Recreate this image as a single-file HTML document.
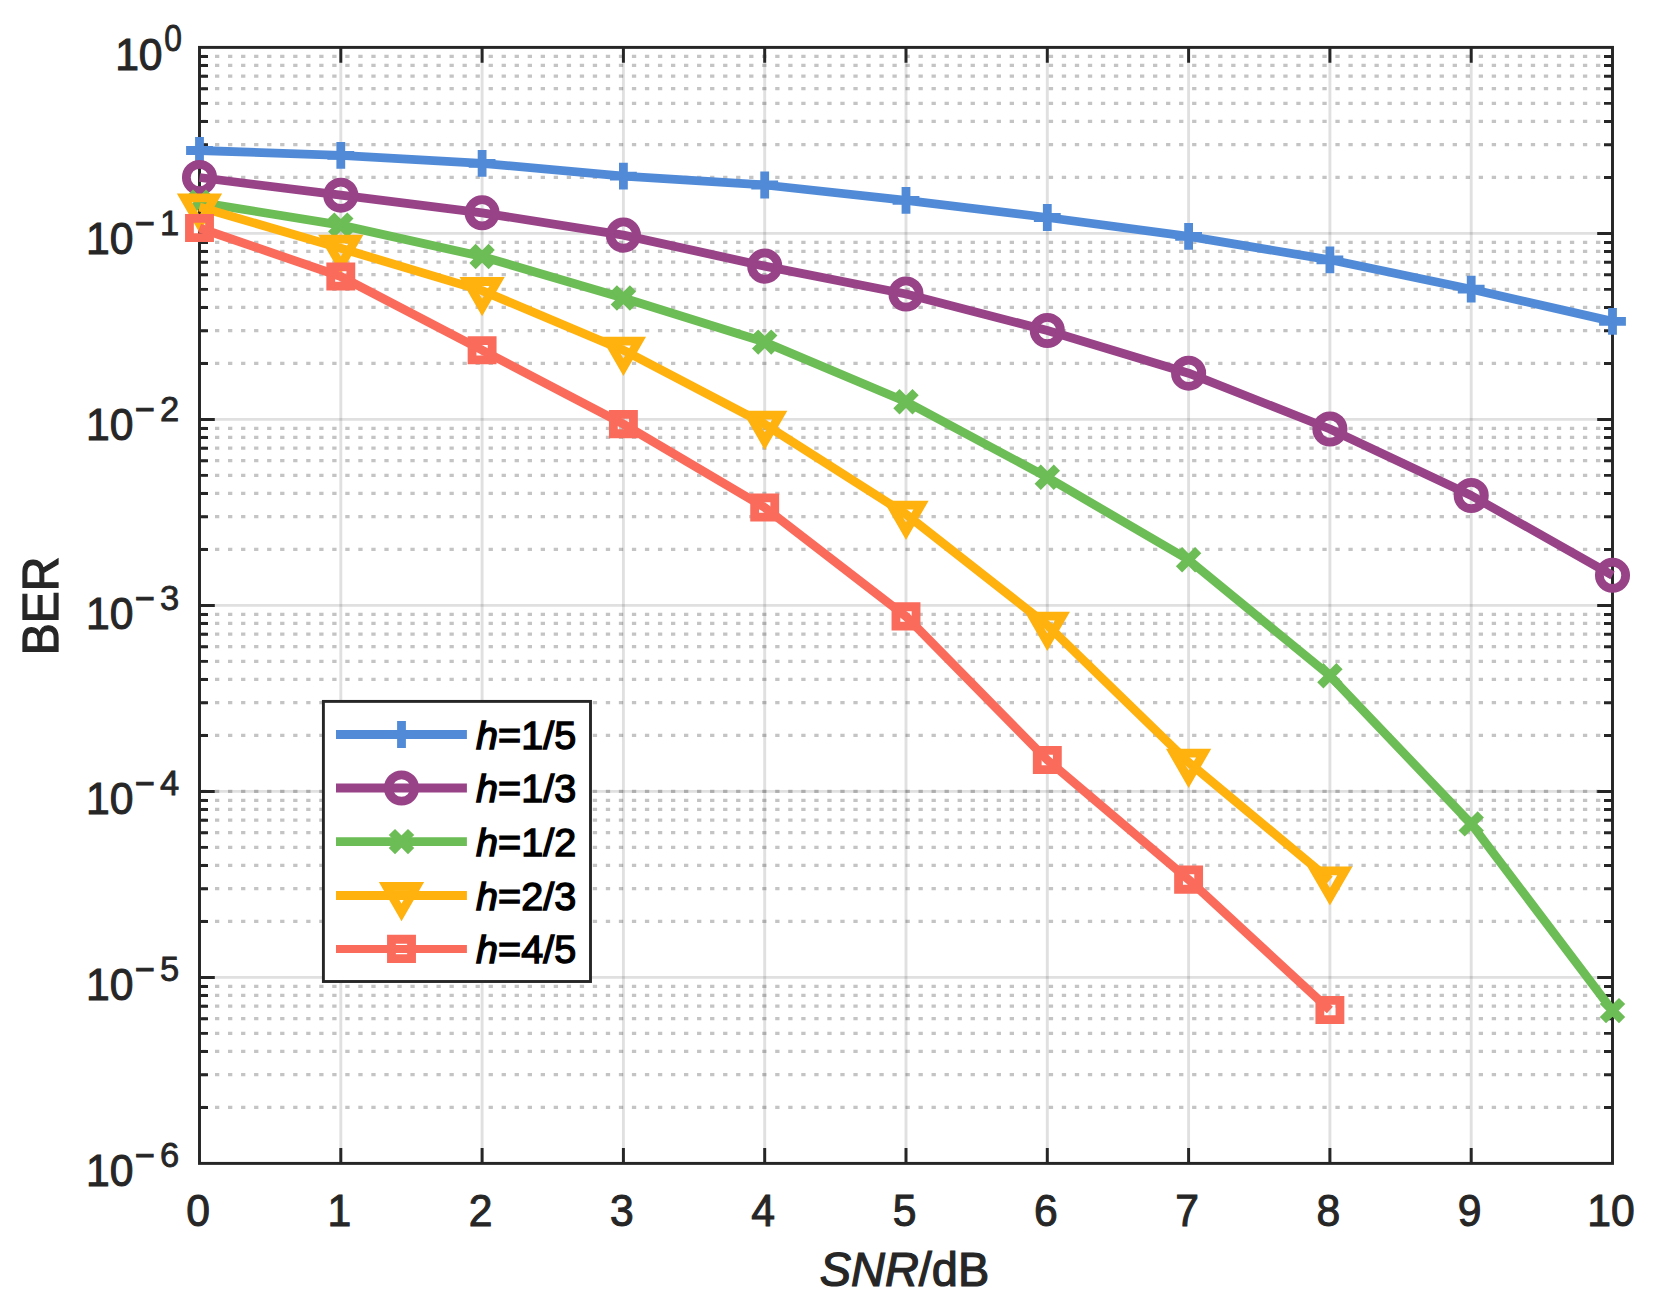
<!DOCTYPE html>
<html lang="en"><head><meta charset="utf-8"><title>BER vs SNR</title>
<style>html,body{margin:0;padding:0;background:#fff}body{width:1661px;height:1316px;overflow:hidden}svg{display:block}text{font-family:"Liberation Sans",sans-serif;fill:#262626}.tk{font-size:42.67px;stroke:#262626;stroke-width:1px}.sup{font-size:34.5px;stroke:#262626;stroke-width:.8px}.lab{font-size:46.93px;stroke:#262626;stroke-width:1.2px}.lab2{font-size:48px;stroke:#262626;stroke-width:1.2px}.lg{font-size:39.6px;fill:#000;stroke:#000;stroke-width:1.4px}.i{font-style:italic}</style></head><body>
<svg width="1661" height="1316" viewBox="0 0 1661 1316">
<rect width="1661" height="1316" fill="#fff"/>
<g stroke="#262626" stroke-opacity=".27" stroke-width="3.2" stroke-dasharray="4.3 8.728" stroke-dashoffset="-15.5" fill="none">
<path d="M199.5 791.40H1602.5"/>
<path d="M199.5 177.41H1602.5"/>
<path d="M199.5 144.66H1602.5"/>
<path d="M199.5 121.42H1602.5"/>
<path d="M199.5 103.39H1602.5"/>
<path d="M199.5 88.66H1602.5"/>
<path d="M199.5 76.21H1602.5"/>
<path d="M199.5 65.43H1602.5"/>
<path d="M199.5 56.41H1602.5"/>
<path d="M199.5 363.41H1602.5"/>
<path d="M199.5 330.66H1602.5"/>
<path d="M199.5 307.42H1602.5"/>
<path d="M199.5 289.39H1602.5"/>
<path d="M199.5 274.66H1602.5"/>
<path d="M199.5 262.21H1602.5"/>
<path d="M199.5 251.43H1602.5"/>
<path d="M199.5 242.41H1602.5"/>
<path d="M199.5 549.41H1602.5"/>
<path d="M199.5 516.66H1602.5"/>
<path d="M199.5 493.42H1602.5"/>
<path d="M199.5 475.39H1602.5"/>
<path d="M199.5 460.66H1602.5"/>
<path d="M199.5 448.21H1602.5"/>
<path d="M199.5 437.43H1602.5"/>
<path d="M199.5 428.41H1602.5"/>
<path d="M199.5 735.41H1602.5"/>
<path d="M199.5 702.66H1602.5"/>
<path d="M199.5 679.42H1602.5"/>
<path d="M199.5 661.39H1602.5"/>
<path d="M199.5 646.66H1602.5"/>
<path d="M199.5 634.21H1602.5"/>
<path d="M199.5 623.43H1602.5"/>
<path d="M199.5 614.41H1602.5"/>
<path d="M199.5 921.41H1602.5"/>
<path d="M199.5 888.66H1602.5"/>
<path d="M199.5 865.42H1602.5"/>
<path d="M199.5 847.39H1602.5"/>
<path d="M199.5 832.66H1602.5"/>
<path d="M199.5 820.21H1602.5"/>
<path d="M199.5 809.43H1602.5"/>
<path d="M199.5 800.41H1602.5"/>
<path d="M199.5 1107.41H1602.5"/>
<path d="M199.5 1074.66H1602.5"/>
<path d="M199.5 1051.42H1602.5"/>
<path d="M199.5 1033.39H1602.5"/>
<path d="M199.5 1018.66H1602.5"/>
<path d="M199.5 1006.21H1602.5"/>
<path d="M199.5 995.43H1602.5"/>
<path d="M199.5 986.41H1602.5"/>
</g>
<g stroke="#262626" stroke-opacity=".14" stroke-width="2.9" fill="none">
<path d="M340.80 47.4V1163.4"/>
<path d="M482.10 47.4V1163.4"/>
<path d="M623.40 47.4V1163.4"/>
<path d="M764.70 47.4V1163.4"/>
<path d="M906.00 47.4V1163.4"/>
<path d="M1047.30 47.4V1163.4"/>
<path d="M1188.60 47.4V1163.4"/>
<path d="M1329.90 47.4V1163.4"/>
<path d="M1471.20 47.4V1163.4"/>
<path d="M199.5 233.40H1612.5"/>
<path d="M199.5 419.40H1612.5"/>
<path d="M199.5 605.40H1612.5"/>
<path d="M199.5 791.40H1612.5"/>
<path d="M199.5 977.40H1612.5"/>
</g>
<g stroke="#262626" stroke-width="2.95" fill="none">
<rect x="199.5" y="47.4" width="1413.0" height="1116.0"/>
<path d="M340.80 47.4v15.3M340.80 1163.4v-15.3"/>
<path d="M482.10 47.4v15.3M482.10 1163.4v-15.3"/>
<path d="M623.40 47.4v15.3M623.40 1163.4v-15.3"/>
<path d="M764.70 47.4v15.3M764.70 1163.4v-15.3"/>
<path d="M906.00 47.4v15.3M906.00 1163.4v-15.3"/>
<path d="M1047.30 47.4v15.3M1047.30 1163.4v-15.3"/>
<path d="M1188.60 47.4v15.3M1188.60 1163.4v-15.3"/>
<path d="M1329.90 47.4v15.3M1329.90 1163.4v-15.3"/>
<path d="M1471.20 47.4v15.3M1471.20 1163.4v-15.3"/>
<path d="M199.5 177.41h8.5M1612.5 177.41h-8.5"/>
<path d="M199.5 144.66h8.5M1612.5 144.66h-8.5"/>
<path d="M199.5 121.42h8.5M1612.5 121.42h-8.5"/>
<path d="M199.5 103.39h8.5M1612.5 103.39h-8.5"/>
<path d="M199.5 88.66h8.5M1612.5 88.66h-8.5"/>
<path d="M199.5 76.21h8.5M1612.5 76.21h-8.5"/>
<path d="M199.5 65.43h8.5M1612.5 65.43h-8.5"/>
<path d="M199.5 56.41h8.5M1612.5 56.41h-8.5"/>
<path d="M199.5 233.40h15.3M1612.5 233.40h-15.3"/>
<path d="M199.5 363.41h8.5M1612.5 363.41h-8.5"/>
<path d="M199.5 330.66h8.5M1612.5 330.66h-8.5"/>
<path d="M199.5 307.42h8.5M1612.5 307.42h-8.5"/>
<path d="M199.5 289.39h8.5M1612.5 289.39h-8.5"/>
<path d="M199.5 274.66h8.5M1612.5 274.66h-8.5"/>
<path d="M199.5 262.21h8.5M1612.5 262.21h-8.5"/>
<path d="M199.5 251.43h8.5M1612.5 251.43h-8.5"/>
<path d="M199.5 242.41h8.5M1612.5 242.41h-8.5"/>
<path d="M199.5 419.40h15.3M1612.5 419.40h-15.3"/>
<path d="M199.5 549.41h8.5M1612.5 549.41h-8.5"/>
<path d="M199.5 516.66h8.5M1612.5 516.66h-8.5"/>
<path d="M199.5 493.42h8.5M1612.5 493.42h-8.5"/>
<path d="M199.5 475.39h8.5M1612.5 475.39h-8.5"/>
<path d="M199.5 460.66h8.5M1612.5 460.66h-8.5"/>
<path d="M199.5 448.21h8.5M1612.5 448.21h-8.5"/>
<path d="M199.5 437.43h8.5M1612.5 437.43h-8.5"/>
<path d="M199.5 428.41h8.5M1612.5 428.41h-8.5"/>
<path d="M199.5 605.40h15.3M1612.5 605.40h-15.3"/>
<path d="M199.5 735.41h8.5M1612.5 735.41h-8.5"/>
<path d="M199.5 702.66h8.5M1612.5 702.66h-8.5"/>
<path d="M199.5 679.42h8.5M1612.5 679.42h-8.5"/>
<path d="M199.5 661.39h8.5M1612.5 661.39h-8.5"/>
<path d="M199.5 646.66h8.5M1612.5 646.66h-8.5"/>
<path d="M199.5 634.21h8.5M1612.5 634.21h-8.5"/>
<path d="M199.5 623.43h8.5M1612.5 623.43h-8.5"/>
<path d="M199.5 614.41h8.5M1612.5 614.41h-8.5"/>
<path d="M199.5 791.40h15.3M1612.5 791.40h-15.3"/>
<path d="M199.5 921.41h8.5M1612.5 921.41h-8.5"/>
<path d="M199.5 888.66h8.5M1612.5 888.66h-8.5"/>
<path d="M199.5 865.42h8.5M1612.5 865.42h-8.5"/>
<path d="M199.5 847.39h8.5M1612.5 847.39h-8.5"/>
<path d="M199.5 832.66h8.5M1612.5 832.66h-8.5"/>
<path d="M199.5 820.21h8.5M1612.5 820.21h-8.5"/>
<path d="M199.5 809.43h8.5M1612.5 809.43h-8.5"/>
<path d="M199.5 800.41h8.5M1612.5 800.41h-8.5"/>
<path d="M199.5 977.40h15.3M1612.5 977.40h-15.3"/>
<path d="M199.5 1107.41h8.5M1612.5 1107.41h-8.5"/>
<path d="M199.5 1074.66h8.5M1612.5 1074.66h-8.5"/>
<path d="M199.5 1051.42h8.5M1612.5 1051.42h-8.5"/>
<path d="M199.5 1033.39h8.5M1612.5 1033.39h-8.5"/>
<path d="M199.5 1018.66h8.5M1612.5 1018.66h-8.5"/>
<path d="M199.5 1006.21h8.5M1612.5 1006.21h-8.5"/>
<path d="M199.5 995.43h8.5M1612.5 995.43h-8.5"/>
<path d="M199.5 986.41h8.5M1612.5 986.41h-8.5"/>
</g>
<g stroke="#518bd8" stroke-width="8.8" fill="none" stroke-linejoin="miter" stroke-miterlimit="10"><path d="M199.5 150.5L340.8 155.3L482.1 163.3L623.4 176.1L764.7 185.0L906.0 200.3L1047.3 217.5L1188.6 236.3L1329.9 259.8L1471.2 289.2L1612.5 321.4" stroke-linejoin="round"/><path d="M186.1 150.5h26.8M199.5 137.1v26.8M327.4 155.3h26.8M340.8 141.9v26.8M468.7 163.3h26.8M482.1 149.9v26.8M610.0 176.1h26.8M623.4 162.7v26.8M751.3 185.0h26.8M764.7 171.6v26.8M892.6 200.3h26.8M906.0 186.9v26.8M1033.9 217.5h26.8M1047.3 204.1v26.8M1175.2 236.3h26.8M1188.6 222.9v26.8M1316.5 259.8h26.8M1329.9 246.4v26.8M1457.8 289.2h26.8M1471.2 275.8v26.8M1599.1 321.4h26.8M1612.5 308.0v26.8"/></g>
<g stroke="#984387" stroke-width="8.8" fill="none" stroke-linejoin="miter" stroke-miterlimit="10"><path d="M199.5 177.5L340.8 195.2L482.1 212.8L623.4 235.1L764.7 266.1L906.0 294.0L1047.3 330.5L1188.6 373.2L1329.9 429.0L1471.2 495.5L1612.5 575.3" stroke-linejoin="round"/><circle cx="199.5" cy="177.5" r="13.15"/><circle cx="340.8" cy="195.2" r="13.15"/><circle cx="482.1" cy="212.8" r="13.15"/><circle cx="623.4" cy="235.1" r="13.15"/><circle cx="764.7" cy="266.1" r="13.15"/><circle cx="906.0" cy="294.0" r="13.15"/><circle cx="1047.3" cy="330.5" r="13.15"/><circle cx="1188.6" cy="373.2" r="13.15"/><circle cx="1329.9" cy="429.0" r="13.15"/><circle cx="1471.2" cy="495.5" r="13.15"/><circle cx="1612.5" cy="575.3" r="13.15"/></g>
<g stroke="#6cbd55" stroke-width="8.8" fill="none" stroke-linejoin="miter" stroke-miterlimit="10"><path d="M199.5 202.3L340.8 225.1L482.1 256.5L623.4 298.0L764.7 342.1L906.0 401.7L1047.3 477.3L1188.6 559.8L1329.9 675.7L1471.2 823.9L1612.5 1010.6" stroke-linejoin="round"/><path d="M189.9 192.7l19.2 19.2M189.9 211.9l19.2 -19.2M331.2 215.5l19.2 19.2M331.2 234.7l19.2 -19.2M472.5 246.9l19.2 19.2M472.5 266.1l19.2 -19.2M613.8 288.4l19.2 19.2M613.8 307.6l19.2 -19.2M755.1 332.5l19.2 19.2M755.1 351.7l19.2 -19.2M896.4 392.1l19.2 19.2M896.4 411.3l19.2 -19.2M1037.7 467.7l19.2 19.2M1037.7 486.9l19.2 -19.2M1179.0 550.2l19.2 19.2M1179.0 569.4l19.2 -19.2M1320.3 666.1l19.2 19.2M1320.3 685.3l19.2 -19.2M1461.6 814.3l19.2 19.2M1461.6 833.5l19.2 -19.2M1602.9 1001.0l19.2 19.2M1602.9 1020.2l19.2 -19.2"/></g>
<g stroke="#ffb10d" stroke-width="8.8" fill="none" stroke-linejoin="miter" stroke-miterlimit="10"><path d="M199.5 207.0L340.8 248.3L482.1 290.6L623.4 350.2L764.7 424.2L906.0 514.2L1047.3 625.2L1188.6 762.3L1329.9 879.9" stroke-linejoin="round"/><path d="M184.50 197.90h30l-15 25.98zM325.80 239.20h30l-15 25.98zM467.10 281.50h30l-15 25.98zM608.40 341.10h30l-15 25.98zM749.70 415.10h30l-15 25.98zM891.00 505.10h30l-15 25.98zM1032.30 616.10h30l-15 25.98zM1173.60 753.20h30l-15 25.98zM1314.90 870.80h30l-15 25.98z"/></g>
<g stroke="#fb6b5b" stroke-width="8.8" fill="none" stroke-linejoin="miter" stroke-miterlimit="10"><path d="M199.5 228.0L340.8 276.5L482.1 350.2L623.4 424.1L764.7 507.5L906.0 616.4L1047.3 760.0L1188.6 879.6L1329.9 1010.0" stroke-linejoin="round"/><path d="M189.45 218.35h20.1v19.3h-20.1zM330.75 266.85h20.1v19.3h-20.1zM472.05 340.55h20.1v19.3h-20.1zM613.35 414.45h20.1v19.3h-20.1zM754.65 497.85h20.1v19.3h-20.1zM895.95 606.75h20.1v19.3h-20.1zM1037.25 750.35h20.1v19.3h-20.1zM1178.55 869.95h20.1v19.3h-20.1zM1319.85 1000.35h20.1v19.3h-20.1z"/></g>
<rect x="323.4" y="701.4" width="267.1" height="280.1" fill="#fff" stroke="#262626" stroke-width="2.9"/>
<g stroke="#518bd8" stroke-width="8.8" fill="none" stroke-miterlimit="10"><path d="M336 734.5H466.9"/><path d="M388.1 734.5h26.8M401.5 721.1v26.8"/></g>
<text class="lg" transform="translate(476.00 748.90) scale(1 1.000)" text-anchor="start"><tspan class="i">h</tspan>=1/5</text>
<g stroke="#984387" stroke-width="8.8" fill="none" stroke-miterlimit="10"><path d="M336 788.0H466.9"/><circle cx="401.5" cy="788.0" r="13.15"/></g>
<text class="lg" transform="translate(476.00 802.40) scale(1 1.000)" text-anchor="start"><tspan class="i">h</tspan>=1/3</text>
<g stroke="#6cbd55" stroke-width="8.8" fill="none" stroke-miterlimit="10"><path d="M336 841.6H466.9"/><path d="M391.9 832.0l19.2 19.2M391.9 851.2l19.2 -19.2"/></g>
<text class="lg" transform="translate(476.00 856.00) scale(1 1.000)" text-anchor="start"><tspan class="i">h</tspan>=1/2</text>
<g stroke="#ffb10d" stroke-width="8.8" fill="none" stroke-miterlimit="10"><path d="M336 895.5H466.9"/><path d="M386.50 886.40h30l-15 25.98z"/><path d="M393.5 891.0h16" stroke-width="1.6"/></g>
<text class="lg" transform="translate(476.00 909.90) scale(1 1.000)" text-anchor="start"><tspan class="i">h</tspan>=2/3</text>
<g stroke="#fb6b5b" stroke-width="8.8" fill="none" stroke-miterlimit="10"><path d="M336 948.9H466.9" stroke-width="8"/><path d="M391.45 939.25h20.1v19.3h-20.1z"/></g>
<text class="lg" transform="translate(476.00 963.30) scale(1 1.000)" text-anchor="start"><tspan class="i">h</tspan>=4/5</text>
<text class="tk" transform="translate(198.00 1226.20) scale(1 1.030)" text-anchor="middle">0</text>
<text class="tk" transform="translate(339.30 1226.20) scale(1 1.030)" text-anchor="middle">1</text>
<text class="tk" transform="translate(480.60 1226.20) scale(1 1.030)" text-anchor="middle">2</text>
<text class="tk" transform="translate(621.90 1226.20) scale(1 1.030)" text-anchor="middle">3</text>
<text class="tk" transform="translate(763.20 1226.20) scale(1 1.030)" text-anchor="middle">4</text>
<text class="tk" transform="translate(904.50 1226.20) scale(1 1.030)" text-anchor="middle">5</text>
<text class="tk" transform="translate(1045.80 1226.20) scale(1 1.030)" text-anchor="middle">6</text>
<text class="tk" transform="translate(1187.10 1226.20) scale(1 1.030)" text-anchor="middle">7</text>
<text class="tk" transform="translate(1328.40 1226.20) scale(1 1.030)" text-anchor="middle">8</text>
<text class="tk" transform="translate(1469.70 1226.20) scale(1 1.030)" text-anchor="middle">9</text>
<text class="tk" transform="translate(1611.00 1226.20) scale(1 1.030)" text-anchor="middle">10</text>
<text class="tk" transform="translate(162.60 69.50) scale(1 1.030)" text-anchor="end">10</text>
<text class="sup" transform="translate(164.30 50.50) scale(0.92 1.060)" text-anchor="start">0</text>
<text class="tk" transform="translate(133.40 254.40) scale(1 1.030)" text-anchor="end">10</text>
<text class="sup" transform="translate(134.70 236.40) scale(1 1.080)" text-anchor="start">−</text>
<text class="sup" transform="translate(159.90 235.30) scale(1 1.030)" text-anchor="start">1</text>
<text class="tk" transform="translate(133.40 440.10) scale(1 1.030)" text-anchor="end">10</text>
<text class="sup" transform="translate(134.70 422.10) scale(1 1.080)" text-anchor="start">−</text>
<text class="sup" transform="translate(159.90 421.00) scale(1 1.030)" text-anchor="start">2</text>
<text class="tk" transform="translate(133.40 629.30) scale(1 1.030)" text-anchor="end">10</text>
<text class="sup" transform="translate(134.70 611.30) scale(1 1.080)" text-anchor="start">−</text>
<text class="sup" transform="translate(159.90 610.20) scale(1 1.030)" text-anchor="start">3</text>
<text class="tk" transform="translate(133.40 814.40) scale(1 1.030)" text-anchor="end">10</text>
<text class="sup" transform="translate(134.70 796.40) scale(1 1.080)" text-anchor="start">−</text>
<text class="sup" transform="translate(159.90 795.30) scale(1 1.030)" text-anchor="start">4</text>
<text class="tk" transform="translate(133.40 999.90) scale(1 1.030)" text-anchor="end">10</text>
<text class="sup" transform="translate(134.70 981.90) scale(1 1.080)" text-anchor="start">−</text>
<text class="sup" transform="translate(159.90 980.80) scale(1 1.030)" text-anchor="start">5</text>
<text class="tk" transform="translate(133.40 1185.70) scale(1 1.030)" text-anchor="end">10</text>
<text class="sup" transform="translate(134.70 1167.70) scale(1 1.080)" text-anchor="start">−</text>
<text class="sup" transform="translate(159.90 1166.60) scale(1 1.030)" text-anchor="start">6</text>
<text class="lab" transform="translate(904.50 1286.40) scale(1 1.040)" text-anchor="middle"><tspan class="i">SNR</tspan>/dB</text>
<text class="lab2" transform="translate(58.30 606.00) rotate(-90) scale(1 1.050)" text-anchor="middle">BER</text>
</svg></body></html>
